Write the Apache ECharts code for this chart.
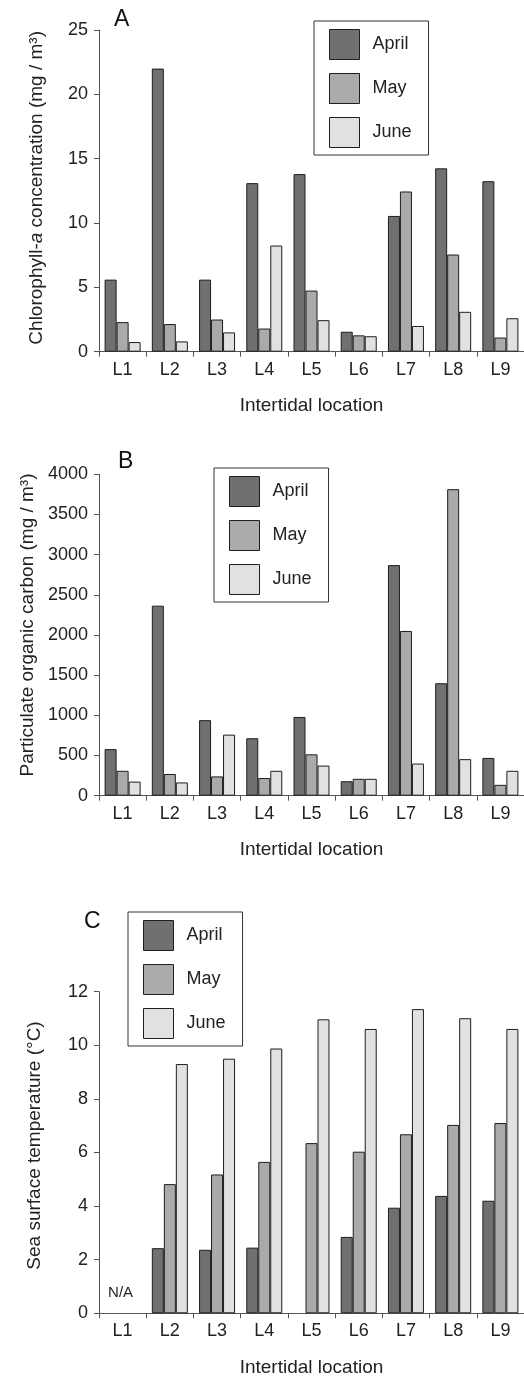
<!DOCTYPE html>
<html>
<head>
<meta charset="utf-8">
<script src="https://cdn.jsdelivr.net/npm/echarts@6/dist/echarts.min.js"></script>
<style>
  html, body { margin: 0; padding: 0; background: #fff; }
  #chart { width: 524px; height: 1382px; }
</style>
</head>
<body>
<div id="chart"></div>
<script>
// data
const locations = ['L1', 'L2', 'L3', 'L4', 'L5', 'L6', 'L7', 'L8', 'L9']
const months = ['April', 'May', 'June']

// A: chlorophyll-a (mg / m3)
const chlApril = [5.6, 22.0, 5.6, 13.1, 13.8, 1.55, 10.55, 14.25, 13.25]
const chlMay = [2.3, 2.15, 2.5, 1.8, 4.75, 1.27, 12.45, 7.55, 1.1]
const chlJune = [0.75, 0.8, 1.5, 8.25, 2.45, 1.2, 2.0, 3.1, 2.6]

// B: particulate organic carbon (mg / m3)
const pocApril = [580, 2365, 940, 715, 980, 180, 2870, 1400, 470]
const pocMay = [310, 270, 240, 220, 515, 210, 2050, 3815, 135]
const pocJune = [175, 165, 760, 310, 375, 210, 400, 455, 310]

// C: sea surface temperature (°C), L1 not available
const sstApril = [null, 2.43, 2.37, 2.45, null, 2.85, 3.94, 4.38, 4.2]
const sstMay = [null, 4.82, 5.18, 5.65, 6.35, 6.03, 6.68, 7.03, 7.1]
const sstJune = [null, 9.3, 9.5, 9.88, 10.97, 10.61, 11.35, 11.01, 10.61]

const font = "'Liberation Sans', Arial, sans-serif"
const ink = '#222'
const axisColor = '#555'
const fills = { April: '#707070', May: '#aaaaaa', June: '#e1e1e1' }

const chart = echarts.init(document.getElementById('chart'))

const xAxis = (i) => ({
  gridIndex: i,
  type: 'category',
  data: locations,
  name: 'Intertidal location',
  nameLocation: 'middle',
  nameGap: 45,
  nameTextStyle: { fontFamily: font, fontSize: 19, color: ink },
  axisLine: { lineStyle: { color: axisColor, width: 1 } },
  axisTick: { show: true, length: 5, lineStyle: { color: axisColor } },
  axisLabel: { interval: 0, margin: 9, fontFamily: font, fontSize: 18, color: ink },
  splitLine: { show: false }
})

const yAxis = (i, max, interval, name, gap, shift, rich) => ({
  gridIndex: i,
  type: 'value',
  min: 0,
  max: max,
  interval: interval,
  name: name,
  nameLocation: 'middle',
  nameGap: gap,
  nameTextStyle: { fontFamily: font, fontSize: 19, color: ink, padding: [0, 0, 0, shift * 2], rich: rich },
  axisLine: { show: true, lineStyle: { color: axisColor, width: 1 } },
  axisTick: { show: true, length: 5, lineStyle: { color: axisColor } },
  axisLabel: { margin: 11, fontFamily: font, fontSize: 18, color: ink, formatter: (v) => String(v) },
  splitLine: { show: false }
})

const barSeries = (i, month, data) => ({
  name: month,
  type: 'bar',
  xAxisIndex: i,
  yAxisIndex: i,
  data: data,
  barWidth: 12,
  barGap: '0%',
  itemStyle: { color: fills[month], borderColor: '#1e1e1e', borderWidth: 1 }
})

const legend = (left, top) => ({
  orient: 'vertical',
  left: left,
  top: top,
  data: months,
  icon: 'rect',
  itemWidth: 30,
  itemHeight: 30,
  itemGap: 13,
  padding: [8, 17, 7, 15],
  borderColor: '#333',
  borderWidth: 1,
  selectedMode: false,
  itemStyle: { borderColor: '#1e1e1e', borderWidth: 1 },
  textStyle: { fontFamily: font, fontSize: 18, color: ink, padding: [0, 0, 0, 8] }
})

const nameRich = {
  n: { fontFamily: font, fontSize: 19, color: ink },
  i: { fontFamily: font, fontSize: 19, color: ink, fontStyle: 'italic' }
}

chart.setOption({
  animation: false,
  title: [
    { text: 'A', left: 114, top: 8, padding: 0, textStyle: { fontFamily: font, fontSize: 23, fontWeight: 'normal', color: '#111' } },
    { text: 'B', left: 118, top: 450, padding: 0, textStyle: { fontFamily: font, fontSize: 23, fontWeight: 'normal', color: '#111' } },
    { text: 'C', left: 84, top: 910, padding: 0, textStyle: { fontFamily: font, fontSize: 23, fontWeight: 'normal', color: '#111' } }
  ],
  legend: [legend(314, 21), legend(214, 468), legend(128, 912)],
  grid: [
    { left: 99, top: 30, width: 429, height: 321.7 },
    { left: 99, top: 474.3, width: 429, height: 321.4 },
    { left: 99, top: 991.7, width: 429, height: 321.6 }
  ],
  xAxis: [xAxis(0), xAxis(1), xAxis(2)],
  yAxis: [
    yAxis(0, 25, 5, '{n|Chlorophyll-}{i|a}{n| concentration (mg / m³)}', 53, 3, nameRich),
    yAxis(1, 4000, 500, 'Particulate organic carbon (mg / m³)', 60, 10),
    yAxis(2, 12, 2, 'Sea surface temperature (°C)', 55, 7)
  ],
  series: [
    barSeries(0, 'April', chlApril),
    barSeries(0, 'May', chlMay),
    barSeries(0, 'June', chlJune),
    barSeries(1, 'April', pocApril),
    barSeries(1, 'May', pocMay),
    barSeries(1, 'June', pocJune),
    Object.assign(barSeries(2, 'April', sstApril), {
      markPoint: {
        symbol: 'rect',
        symbolSize: 0,
        data: [{ coord: ['L1', 0], value: 'N/A' }],
        label: { show: true, formatter: 'N/A', offset: [10, -20], fontFamily: font, fontSize: 15, color: ink }
      }
    }),
    barSeries(2, 'May', sstMay),
    barSeries(2, 'June', sstJune)
  ]
})
</script>
</body>
</html>
